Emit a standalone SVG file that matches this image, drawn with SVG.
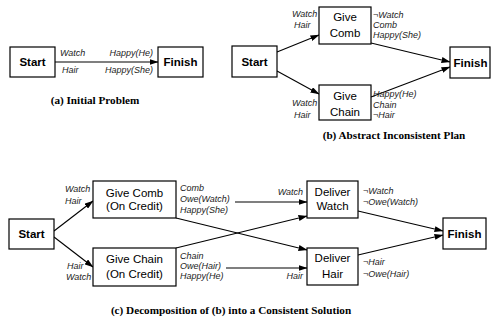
<svg xmlns="http://www.w3.org/2000/svg" width="491" height="321" viewBox="0 0 491 321">
<defs>
<marker id="ah" markerWidth="9" markerHeight="6" refX="8.5" refY="3" orient="auto" markerUnits="userSpaceOnUse">
<path d="M0,0 L9,3 L0,6 Z" fill="#000"/>
</marker>
<style>
.box{fill:#fff;stroke:#000;stroke-width:1.2}
.bl{font-family:"Liberation Sans",Arial,sans-serif;font-size:11.5px;text-anchor:middle;fill:#000}
.bb{font-family:"Liberation Sans",Arial,sans-serif;font-size:11.5px;font-weight:bold;text-anchor:middle;fill:#000}
.lb{font-family:"Liberation Sans",Arial,sans-serif;font-size:9px;font-style:italic;fill:#222}
.end{text-anchor:end}
.cap{font-family:"Liberation Serif","Times New Roman",serif;font-size:11.2px;font-weight:bold;text-anchor:middle;fill:#000}
.ed{stroke:#000;stroke-width:1.1;fill:none;marker-end:url(#ah)}
</style>
</defs>
<rect width="491" height="321" fill="#fff"/>

<g id="connectors">
<line class="ed" x1="55" y1="62" x2="158" y2="62"/>
<line class="ed" x1="277" y1="52" x2="319" y2="35"/>
<line class="ed" x1="277" y1="71" x2="319" y2="94"/>
<line class="ed" x1="371" y1="43" x2="450" y2="62"/>
<line class="ed" x1="371" y1="97" x2="450" y2="67"/>
<line class="ed" x1="54" y1="231" x2="93" y2="201"/>
<line class="ed" x1="54" y1="237" x2="93" y2="267"/>
<line class="ed" x1="235" y1="202" x2="307" y2="202"/>
<line class="ed" x1="226" y1="268" x2="307" y2="268"/>
<line class="ed" x1="176" y1="218" x2="307" y2="250"/>
<line class="ed" x1="176" y1="248" x2="307" y2="216"/>
<line class="ed" x1="358" y1="211" x2="443" y2="231"/>
<line class="ed" x1="358" y1="255" x2="443" y2="235"/>
</g>

<!-- Panel (a) -->
<g id="a-start"><rect class="box" x="10" y="47" width="45" height="30"/><text class="bb" x="32.5" y="66">Start</text></g>
<g id="a-finish"><rect class="box" x="158" y="47" width="45" height="30"/><text class="bb" x="180.5" y="66">Finish</text></g>
<g id="a-labels">
<text class="lb" x="60" y="56">Watch</text>
<text class="lb" x="62" y="73">Hair</text>
<text class="lb end" x="153" y="56">Happy(He)</text>
<text class="lb end" x="153" y="73">Happy(She)</text>
</g>
<text class="cap" x="95" y="104">(a) Initial Problem</text>

<!-- Panel (b) -->
<g id="b-start"><rect class="box" x="232" y="46" width="45" height="31"/><text class="bb" x="254.5" y="65.5">Start</text></g>
<g id="b-givecomb"><rect class="box" x="319" y="7" width="52" height="37"/><text class="bl" x="345" y="21">Give</text><text class="bl" x="345" y="37">Comb</text>
<text class="lb" x="292" y="17">Watch</text><text class="lb" x="294" y="28">Hair</text>
<text class="lb" x="373" y="18">¬Watch</text><text class="lb" x="373" y="28">Comb</text><text class="lb" x="373" y="38">Happy(She)</text></g>
<g id="b-givechain"><rect class="box" x="319" y="85" width="52" height="35"/><text class="bl" x="345" y="100">Give</text><text class="bl" x="345" y="116">Chain</text>
<text class="lb" x="292" y="106">Watch</text><text class="lb" x="294" y="118">Hair</text>
<text class="lb" x="373" y="97">Happy(He)</text><text class="lb" x="373" y="108">Chain</text><text class="lb" x="373" y="118">¬Hair</text></g>
<g id="b-finish"><rect class="box" x="450" y="47" width="40" height="31"/><text class="bb" x="470.5" y="66.5">Finish</text></g>
<text class="cap" x="394" y="139">(b) Abstract Inconsistent Plan</text>

<!-- Panel (c) -->
<g id="c-start"><rect class="box" x="9" y="219" width="45" height="30"/><text class="bb" x="31.5" y="238">Start</text>
<text class="lb" x="65" y="192">Watch</text><text class="lb" x="65" y="204">Hair</text>
<text class="lb" x="67" y="269">Hair</text><text class="lb" x="66" y="280">Watch</text></g>
<g id="c-givecomb"><rect class="box" x="93" y="181" width="83" height="37"/><text class="bl" x="134.5" y="197">Give Comb</text><text class="bl" x="134.5" y="210">(On Credit)</text>
<text class="lb" x="180" y="191">Comb</text><text class="lb" x="180" y="202">Owe(Watch)</text><text class="lb" x="180" y="213">Happy(She)</text></g>
<g id="c-givechain"><rect class="box" x="93" y="248" width="83" height="38"/><text class="bl" x="134.5" y="263">Give Chain</text><text class="bl" x="134.5" y="278">(On Credit)</text>
<text class="lb" x="180" y="259">Chain</text><text class="lb" x="180" y="269">Owe(Hair)</text><text class="lb" x="180" y="279">Happy(He)</text></g>
<g id="c-deliverwatch"><rect class="box" x="307" y="181" width="51" height="37"/><text class="bl" x="332.5" y="196">Deliver</text><text class="bl" x="332.5" y="210">Watch</text>
<text class="lb end" x="303" y="195">Watch</text>
<text class="lb" x="363" y="194">¬Watch</text><text class="lb" x="363" y="205">¬Owe(Watch)</text></g>
<g id="c-deliverhair"><rect class="box" x="307" y="248" width="51" height="37"/><text class="bl" x="332.5" y="262">Deliver</text><text class="bl" x="332.5" y="278">Hair</text>
<text class="lb end" x="303" y="279">Hair</text>
<text class="lb" x="363" y="265">¬Hair</text><text class="lb" x="363" y="277">¬Owe(Hair)</text></g>
<g id="c-finish"><rect class="box" x="443" y="218" width="43" height="31"/><text class="bb" x="464.5" y="237.5">Finish</text></g>
<text class="cap" x="231" y="314">(c) Decomposition of (b) into a Consistent Solution</text>
</svg>
